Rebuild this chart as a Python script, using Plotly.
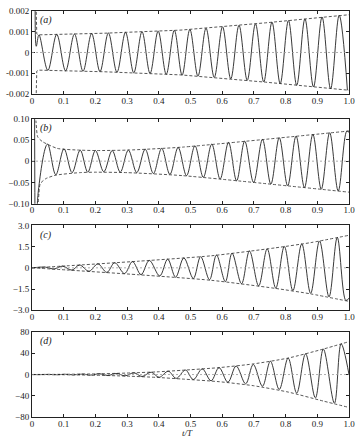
import plotly.graph_objects as go
from plotly.subplots import make_subplots

# ---------------- data ----------------
# panel (a): solid curve extrema
a_t = [0.010, 0.0135, 0.022, 0.050, 0.078, 0.106, 0.134, 0.161, 0.188, 0.2145, 0.241, 0.268, 0.295,
       0.321, 0.347, 0.3725, 0.398, 0.4235, 0.449, 0.4735, 0.498, 0.5235, 0.549, 0.575, 0.601, 0.627,
       0.653, 0.679, 0.705, 0.731, 0.757, 0.783, 0.809, 0.835, 0.861, 0.888, 0.915, 0.942, 0.969, 0.995]
a_y = [0.0025, 0.0003, 0.00085, -0.00086, 0.00087, -0.00088, 0.00089, -0.00090, 0.00091, -0.00092,
       0.00094, -0.00095, 0.00097, -0.00098, 0.00100, -0.00101, 0.00103, -0.00105, 0.00107, -0.00109,
       0.00111, -0.00114, 0.00117, -0.00120, 0.00124, -0.00127, 0.00131, -0.00134, 0.00138, -0.00142,
       0.00146, -0.00150, 0.00154, -0.00158, 0.00162, -0.00166, 0.00171, -0.00175, 0.00179, -0.00182]
a_env_t = [0.013, 0.015, 0.020, 0.23, 0.47, 0.737, 1.0]
a_env_up = [0.0022, 0.0009, 0.00085, 0.00093, 0.00108, 0.00143, 0.00182]
a_env_lo = [-0.0022, -0.0009, -0.00085, -0.00093, -0.00108, -0.00143, -0.00182]

# panel (b)
b_t = [0.008, 0.012, 0.020, 0.049, 0.075, 0.101, 0.1265, 0.152, 0.176, 0.200, 0.2265, 0.253, 0.2785,
       0.304, 0.3305, 0.357, 0.383, 0.409, 0.435, 0.461, 0.4875, 0.514, 0.5405, 0.567, 0.5935, 0.620,
       0.6455, 0.671, 0.699, 0.727, 0.7535, 0.780, 0.8065, 0.833, 0.8595, 0.886, 0.9125, 0.939, 0.966,
       0.993, 1.0]
b_y = [0.2, -0.25, -0.07, 0.040, -0.032, 0.029, -0.027, 0.026, -0.026, 0.025, -0.025, 0.025, -0.026,
       0.026, -0.027, 0.028, -0.029, 0.030, -0.031, 0.032, -0.034, 0.036, -0.038, 0.040, -0.042, 0.044,
       -0.046, 0.047, -0.050, 0.051, -0.054, 0.055, -0.058, 0.059, -0.062, 0.063, -0.066, 0.067, -0.070,
       0.0705, 0.068]
b_env_up_t = [0.010, 0.013, 0.018, 0.033, 0.080, 0.150, 0.200, 0.300, 0.474, 1.0]
b_env_up = [0.12, 0.09, 0.057, 0.046, 0.030, 0.026, 0.025, 0.026, 0.033, 0.071]
b_env_lo_t = [0.018, 0.022, 0.026, 0.044, 0.075, 0.150, 0.200, 0.300, 0.474, 1.0]
b_env_lo = [-0.12, -0.075, -0.053, -0.041, -0.033, -0.027, -0.026, -0.027, -0.034, -0.073]

# panel (c)
c_t = [0.0, 0.042, 0.070, 0.096, 0.126, 0.150, 0.180, 0.208, 0.236, 0.261, 0.292, 0.317, 0.344,
       0.370, 0.403, 0.428, 0.453, 0.479, 0.509, 0.532, 0.560, 0.582, 0.610, 0.631, 0.661, 0.686, 0.715,
       0.742, 0.769, 0.796, 0.823, 0.851, 0.879, 0.907, 0.937, 0.963, 0.990, 1.0]
c_y = [0.0, 0.05, -0.08, 0.12, -0.16, 0.20, -0.24, 0.28, -0.32, 0.36, -0.40, 0.44, -0.48, 0.52,
       -0.57, 0.61, -0.66, 0.70, -0.75, 0.79, -0.84, 0.90, -0.97, 1.03, -1.12, 1.19, -1.27, 1.34, -1.43,
       1.51, -1.61, 1.69, -1.80, 1.90, -2.05, 2.14, -2.30, -2.15]
c_env_t = [0.0, 0.109, 0.337, 0.565, 0.767, 0.879, 1.0]
c_env_up = [0.0, 0.14, 0.47, 0.85, 1.41, 1.78, 2.30]
c_env_lo = [0.0, -0.15, -0.49, -0.88, -1.45, -1.84, -2.37]

# panel (d)
d_t = [0.0, 0.023, 0.052, 0.077, 0.106, 0.131, 0.160, 0.185, 0.214, 0.239, 0.268, 0.293, 0.322,
       0.347, 0.376, 0.401, 0.430, 0.455, 0.484, 0.509, 0.537, 0.565, 0.590, 0.618, 0.644, 0.674, 0.698,
       0.727, 0.752, 0.780, 0.808, 0.835, 0.863, 0.894, 0.919, 0.954, 0.975, 1.0]
d_y = [0.0, -0.15, 0.25, -0.35, 0.45, -0.6, 0.8, -1.0, 1.4, -1.7, 2.0, -2.5, 3.2, -3.7, 4.4, -5.2,
       6.2, -7.2, 8.4, -9.4, 10.6, -11.8, 13.0, -14.5, 16.0, -17.5, 19.0, -22.0, 25.0, -28.0, 31.0,
       -35.0, 39.0, -44.0, 48.0, -54.0, 58.0, 0.0]
d_env_t = [0.0, 0.1, 0.2, 0.3, 0.393, 0.474, 0.590, 0.698, 0.808, 0.919, 1.0]
d_env_up = [0.1, 0.4, 1.2, 2.8, 5.0, 8.0, 13.0, 20.0, 31.0, 48.0, 62.0]
d_env_lo = [-0.1, -0.4, -1.3, -3.0, -5.4, -8.5, -13.5, -21.0, -33.0, -50.0, -62.0]

panel_labels = ["(a)", "(b)", "(c)", "(d)"]
x_ticks = [0, 0.1, 0.2, 0.3, 0.4, 0.5, 0.6, 0.7, 0.8, 0.9, 1.0]
x_ticktext = ["0", "0.1", "0.2", "0.3", "0.4", "0.5", "0.6", "0.7", "0.8", "0.9", "1.0"]
y_ticks = [[-0.002, -0.001, 0, 0.001, 0.002], [-0.1, -0.05, 0, 0.05, 0.1],
           [-3, -1.5, 0, 1.5, 3], [-80, -40, 0, 40, 80]]
y_ticktext = [["-0.002", "-0.001", "0", "0.001", "0.002"],
              ["\u22120.10", "\u22120.05", "0", "0.05", "0.10"],
              ["\u22123.0", "\u22121.5", "0", "1.5", "3.0"],
              ["\u221280", "\u221240", "0", "40", "80"]]
y_ranges = [[-0.002, 0.002], [-0.1, 0.1], [-3, 3], [-80, 80]]
x_title = "<i>t/T</i>"

# ---------------- figure ----------------
FONT = "Liberation Serif"
TXT = "#1a1a1a"
fig = make_subplots(rows=4, cols=1)

panels = [
    (a_t, a_y, [(a_env_t, a_env_up), (a_env_t, a_env_lo)], "linear"),
    (b_t, b_y, [(b_env_up_t, b_env_up), (b_env_lo_t, b_env_lo)], "spline"),
    (c_t, c_y, [(c_env_t, c_env_up), (c_env_t, c_env_lo)], "spline"),
    (d_t, d_y, [(d_env_t, d_env_up), (d_env_t, d_env_lo)], "spline"),
]
domains = [[0.7956, 1.0], [0.5255, 0.7348], [0.2628, 0.472], [0.0, 0.2092]]

for i, (tt, yy, envs, eshape) in enumerate(panels):
    r = i + 1
    for et, ey in envs:
        fig.add_trace(go.Scatter(x=et, y=ey, mode="lines",
                                 line=dict(color="#444", width=0.9, dash="3px,2px", shape=eshape,
                                           smoothing=0.6),
                                 showlegend=False, hoverinfo="skip"), row=r, col=1)
    fig.add_trace(go.Scatter(x=tt, y=yy, mode="lines",
                             line=dict(color="#222", width=0.9, shape="spline", smoothing=1.0),
                             showlegend=False, hoverinfo="skip"), row=r, col=1)
    xn = "x" if r == 1 else f"x{r}"
    yn = "y" if r == 1 else f"y{r}"
    fig.add_shape(type="line", xref=f"{xn} domain", yref=yn, x0=0, x1=1, y0=0, y1=0,
                  line=dict(color="#999", width=0.8, dash="2px,2px"))
    fig.add_annotation(text=f"<i>{panel_labels[i]}</i>", xref=f"{xn} domain", yref=f"{yn} domain",
                       x=0.02, y=0.89, showarrow=False, xanchor="left", yanchor="middle",
                       font=dict(family=FONT, size=10, color=TXT))
    fig.update_xaxes(row=r, col=1, range=[0, 1], tickvals=x_ticks, ticktext=x_ticktext,
                     ticks="inside", ticklen=3, tickcolor="#222", showline=True, linecolor="#222",
                     linewidth=1, mirror="ticks", showgrid=False, zeroline=False,
                     ticklabelstandoff=-2,
                     tickfont=dict(family=FONT, size=9, color=TXT))
    fig.update_yaxes(row=r, col=1, range=y_ranges[i], tickvals=y_ticks[i], ticktext=y_ticktext[i],
                     ticks="inside", ticklen=3, tickcolor="#222", showline=True, linecolor="#222",
                     linewidth=1, mirror="ticks", showgrid=False, zeroline=False, domain=domains[i],
                     tickfont=dict(family=FONT, size=9, color=TXT))

fig.add_annotation(text=x_title, xref="paper", yref="paper", x=0.49, y=-0.056, showarrow=False,
                   xanchor="center", yanchor="bottom", font=dict(family=FONT, size=9, color=TXT))

fig.update_layout(width=361, height=440, margin=dict(l=24, r=8, t=6, b=23),
                  paper_bgcolor="white", plot_bgcolor="white", showlegend=False)

fig.write_html("out.html")
